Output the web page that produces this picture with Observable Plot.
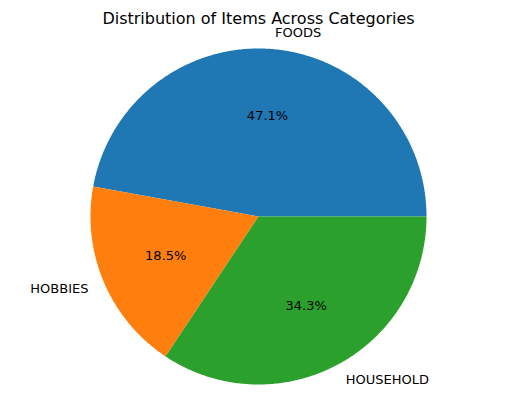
<!DOCTYPE html>
<html><head><meta charset="utf-8">
<script src="https://cdn.jsdelivr.net/npm/d3@7"></script>
<script src="https://cdn.jsdelivr.net/npm/@observablehq/plot@0.6"></script>
<style>body{margin:0;background:#fff;font-family:"DejaVu Sans",sans-serif}</style>
</head><body><div id="chart"></div>
<script>
const categories = ["FOODS", "HOBBIES", "HOUSEHOLD"];
const shares = [47.1, 18.5, 34.3];
const colors = ["#1f77b4", "#ff7f0e", "#2ca02c"];
const title = "Distribution of Items Across Categories";

const total = d3.sum(shares);
let acc = 0;
const slices = categories.map((c, i) => {
  const a0 = acc / total * 2 * Math.PI;
  acc += shares[i];
  const a1 = acc / total * 2 * Math.PI;
  return {c, a0, a1, mid: (a0 + a1) / 2, pct: shares[i]};
});
const pts = [];
slices.forEach(s => {
  pts.push({c: s.c, x: 0, y: 0});
  const n = Math.max(4, Math.ceil((s.a1 - s.a0) / 0.01));
  for (let k = 0; k <= n; k++) {
    const a = s.a0 + (s.a1 - s.a0) * k / n;
    pts.push({c: s.c, x: Math.cos(a), y: Math.sin(a)});
  }
  pts.push({c: s.c, x: 0, y: 0});
});
const labels = slices.map(s => ({c: s.c, x: 1.1 * Math.cos(s.mid), y: 1.1 * Math.sin(s.mid)}));
const pcts = slices.map(s => ({t: s.pct.toFixed(1) + "%", x: 0.6 * Math.cos(s.mid), y: 0.6 * Math.sin(s.mid)}));

const chart = Plot.plot({
  width: 515, height: 411,
  margin: 0,
  x: {domain: [-1, 1], range: [90, 426], axis: null},
  y: {domain: [-1, 1], range: [384, 48], axis: null},
  color: {domain: categories, range: colors},
  style: {fontFamily: "DejaVu Sans, sans-serif", background: "#fff"},
  marks: [
    Plot.line(pts, {x: "x", y: "y", z: "c", fill: "c", stroke: "none", curve: "linear"}),
    Plot.text(labels.filter(d => d.x >= 0), {x: "x", y: "y", text: "c", textAnchor: "start", fontSize: 13, fill: "#000"}),
    Plot.text(labels.filter(d => d.x < 0), {x: "x", y: "y", text: "c", textAnchor: "end", fontSize: 13, fill: "#000"}),
    Plot.text(pcts, {x: "x", y: "y", text: "t", fontSize: 13, fill: "#000"}),
    Plot.text([title], {x: 0, y: 1 + 30 / 168, text: d => d, fontSize: 16, fill: "#000"})
  ]
});
document.getElementById("chart").append(chart);
</script></body></html>
